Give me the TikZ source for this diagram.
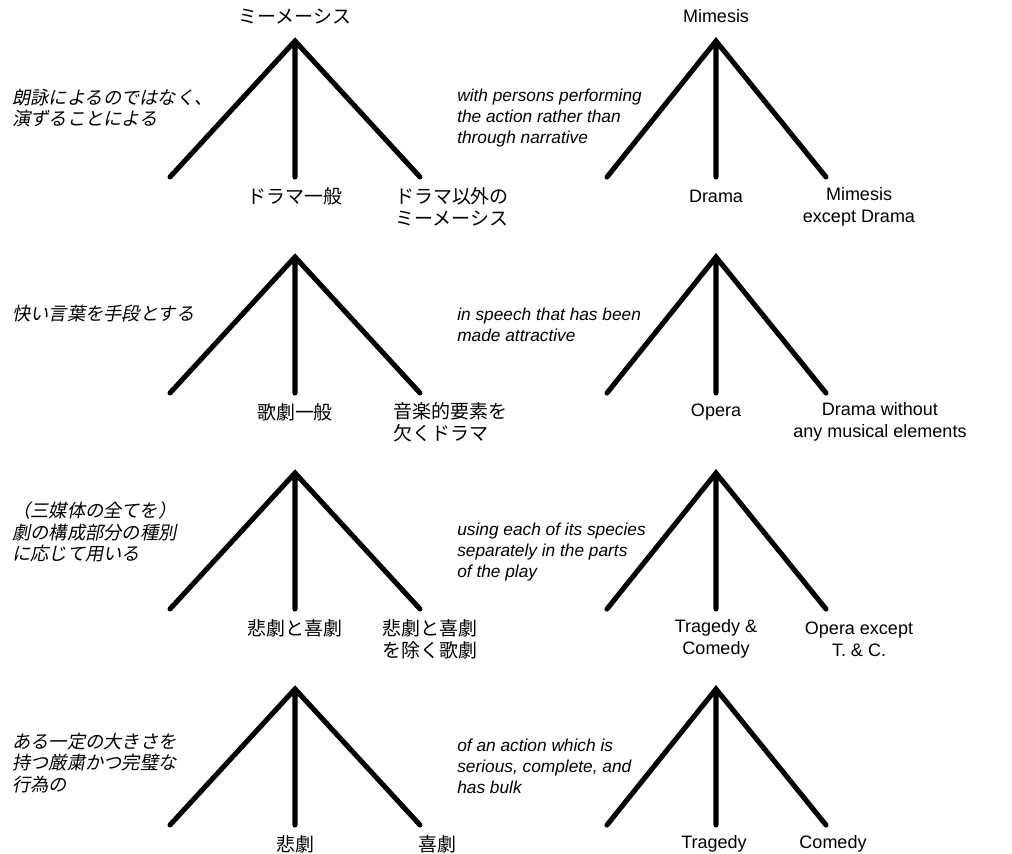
\documentclass[tikz,border=0pt]{standalone}
\usepackage{fontspec}
\setmainfont{Liberation Sans}
\newfontfamily\jpfont{Noto Sans CJK JP}
\newfontfamily\jpslant[FakeSlant=0.2]{Noto Sans CJK JP}

\begin{document}
\begin{tikzpicture}[x=0.025cm, y=-0.025cm,
  leg/.style={line width=3.6pt, line cap=round, line join=miter},
  jalbl/.style={font=\jpfont\fontsize{13.5}{15.5}\selectfont, inner sep=0pt, align=center},
  enlbl/.style={font=\fontsize{12.8}{15.5}\selectfont, inner sep=0pt, align=center},
  jadesc/.style={font=\jpslant\fontsize{13}{15.5}\selectfont, inner sep=0pt, anchor=west, align=left},
  endesc/.style={font=\itshape\fontsize{12.3}{15}\selectfont, inner sep=0pt, anchor=west, align=left}]
  \useasboundingbox (0,0) rectangle (1012,854);
  % the eight trees, Japanese on the left, English on the right
  \foreach \r/\y in {1/41, 2/257, 3/473, 4/689} {
    \coordinate (ja\r) at (295,\y);
    \coordinate (ja\r-l) at (170,{\y+136});
    \coordinate (ja\r-m) at (295,{\y+136});
    \coordinate (ja\r-r) at (420,{\y+136});
    \coordinate (en\r) at (716,\y);
    \coordinate (en\r-l) at (607,{\y+136});
    \coordinate (en\r-m) at (716,{\y+136});
    \coordinate (en\r-r) at (826,{\y+136});
    \draw[leg] (ja\r-l) -- (ja\r) -- (ja\r-r) (ja\r) -- (ja\r-m);
    \draw[leg] (en\r-l) -- (en\r) -- (en\r-r) (en\r) -- (en\r-m);
  }
  \node[jalbl] (jaTop) at (295,16) {ミーメーシス};
  \node[enlbl] (enTop) at (716,16) {Mimesis};

  % row 1
  \node[jadesc] (ja1why) at (12,108) {朗詠によるのではなく、\\演ずることによる};
  \node[jalbl] (ja1side) at (452,207) {ドラマ以外の\\ミーメーシス};
  \node[jalbl] (ja1mid) at (295,196) {ドラマ一般};
  \node[endesc] (en1why) at (457,118) {with persons performing\\the action rather than\\through narrative};
  \node[enlbl] (en1mid) at (716,196) {Drama};
  \node[enlbl] (en1side) at (859,207) {Mimesis\\except Drama};

  % row 2
  \node[jadesc] (ja2why) at (12,314) {快い言葉を手段とする};
  \node[jalbl] (ja2mid) at (295,412) {歌劇一般};
  \node[jalbl, anchor=west, align=left] (ja2side) at (393,422) {音楽的要素を\\欠くドラマ};
  \node[endesc] (en2why) at (457,325) {in speech that has been\\made attractive};
  \node[enlbl] (en2mid) at (716,412) {Opera};
  \node[enlbl] (en2side) at (880,422) {Drama without\\any musical elements};

  % row 3
  \node[jadesc] (ja3why) at (12,532) {（三媒体の全てを）\\劇の構成部分の種別\\に応じて用いる};
  \node[jalbl] (ja3mid) at (295,628) {悲劇と喜劇};
  \node[jalbl] (ja3side) at (430,639) {悲劇と喜劇\\を除く歌劇};
  \node[endesc] (en3why) at (457,552) {using each of its species\\separately in the parts\\of the play};
  \node[enlbl] (en3mid) at (716,639) {Tragedy \&\\Comedy};
  \node[enlbl] (en3side) at (859,639) {Opera except\\T. \& C.};

  % row 4
  \node[jadesc] (ja4why) at (12,763) {ある一定の大きさを\\持つ厳粛かつ完璧な\\行為の};
  \node[jalbl] (ja4mid) at (295,844) {悲劇};
  \node[jalbl] (ja4side) at (437,844) {喜劇};
  \node[endesc] (en4why) at (457,766) {of an action which is\\serious, complete, and\\has bulk};
  \node[enlbl] (en4mid) at (714,844) {Tragedy};
  \node[enlbl] (en4side) at (833,844) {Comedy};
\end{tikzpicture}
\end{document}
